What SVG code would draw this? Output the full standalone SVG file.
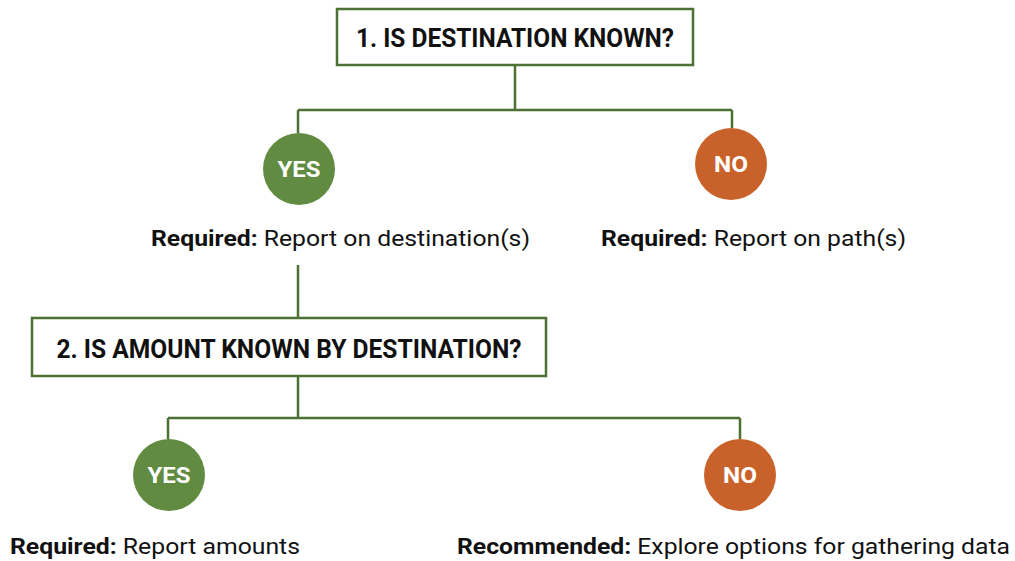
<svg xmlns="http://www.w3.org/2000/svg" width="1015" height="561" viewBox="0 0 1015 561">
<style>
.box{fill:#fff;stroke:#4b7133;stroke-width:2.5}
.conn{fill:none;stroke:#4b7133;stroke-width:2.5}
.yes{fill:#618b41}
.no{fill:#c9622a}
.hdr{font-family:Roboto,"Liberation Sans",sans-serif;font-weight:bold;font-size:25px;fill:#111;text-anchor:middle}
.ct{font-family:Roboto,"Liberation Sans",sans-serif;font-weight:bold;font-size:22px;fill:#fff;text-anchor:middle}
.lbl{font-family:Roboto,"Liberation Sans",sans-serif;font-size:22.5px;fill:#111}
.b{font-weight:bold}
</style>
<rect width="1015" height="561" fill="#fff"/>
<g id="connectors">
<path class="conn" d="M515 65V110M298 110H732M298 110V133M732 110V128"/>
<path class="conn" d="M298 265V318M298 376V418M168 418H740M168 418V439M740 418V439"/>
</g>
<g id="q1">
<rect class="box" x="337" y="9" width="356" height="56"/>
<text class="hdr" x="515" y="47" textLength="318" lengthAdjust="spacingAndGlyphs">1. IS DESTINATION KNOWN?</text>
</g>
<g id="yes1">
<circle class="yes" cx="299" cy="169" r="36"/>
<text class="ct" x="299" y="177" textLength="43" lengthAdjust="spacingAndGlyphs">YES</text>
<text class="lbl" x="151" y="246" textLength="379" lengthAdjust="spacingAndGlyphs"><tspan class="b">Required:</tspan> Report on destination(s)</text>
</g>
<g id="no1">
<circle class="no" cx="731" cy="164" r="36"/>
<text class="ct" x="731" y="172" textLength="34" lengthAdjust="spacingAndGlyphs">NO</text>
<text class="lbl" x="601" y="246" textLength="305" lengthAdjust="spacingAndGlyphs"><tspan class="b">Required:</tspan> Report on path(s)</text>
</g>
<g id="q2">
<rect class="box" x="32" y="318" width="514" height="58"/>
<text class="hdr" x="289" y="358" textLength="465" lengthAdjust="spacingAndGlyphs">2. IS AMOUNT KNOWN BY DESTINATION?</text>
</g>
<g id="yes2">
<circle class="yes" cx="169" cy="475" r="36"/>
<text class="ct" x="169" y="483" textLength="43" lengthAdjust="spacingAndGlyphs">YES</text>
<text class="lbl" x="10" y="554" textLength="290" lengthAdjust="spacingAndGlyphs"><tspan class="b">Required:</tspan> Report amounts</text>
</g>
<g id="no2">
<circle class="no" cx="740" cy="475" r="36"/>
<text class="ct" x="740" y="483" textLength="34" lengthAdjust="spacingAndGlyphs">NO</text>
<text class="lbl" x="457" y="554" textLength="553" lengthAdjust="spacingAndGlyphs"><tspan class="b">Recommended:</tspan> Explore options for gathering data</text>
</g>
</svg>
